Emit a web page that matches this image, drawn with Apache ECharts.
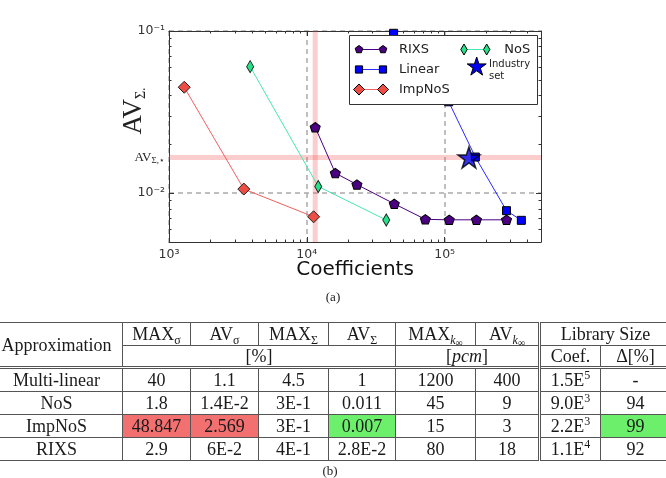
<!DOCTYPE html>
<html>
<head>
<meta charset="utf-8">
<script src="https://cdn.jsdelivr.net/npm/echarts@6/dist/echarts.min.js"></script>
<style>
  html, body { margin: 0; padding: 0; background: #fff; overflow: hidden; }
  #chart { position: absolute; left: 0; top: 0; width: 666px; height: 478px; }
  #tbl { position: absolute; left: -10px; top: 322px; width: 680px; border-collapse: collapse; table-layout: fixed;
         font-family: 'Liberation Serif', serif; font-size: 18px; color: #1a1a1a; }
  #tbl td { border: 1px solid #555; padding: 0; text-align: center; line-height: 18px; white-space: nowrap; overflow: hidden; }
  #tbl tr.h1 td { height: 22px; }
  #tbl tr.h2 td { height: 20px; }
  #tbl tr.d td { height: 22px; }
  #tbl tr.first td { border-top: 3px double #555; }
  #tbl td.dl { border-left: 3px double #555; }
  #tbl sub { font-size: 12px; vertical-align: -4px; line-height: 0; }
  #tbl sub sub { font-size: 10px; vertical-align: -2px; }
  #tbl sup { font-size: 12px; vertical-align: 7px; line-height: 0; }
  .cap { position: absolute; width: 666px; text-align: center; font-family: 'Liberation Serif', serif; font-size: 13px; color: #222; }
</style>
</head>
<body>
<div id="chart"></div>
<div class="cap" style="left:0; top:289px;">(a)</div>
<table id="tbl"></table>
<div class="cap" style="left:-3px; top:463px;">(b)</div>
<script>
// ---- chart data ----
var rixsCoef   = [11500, 16100, 23100, 43100, 72400, 108000, 170000, 281000];
var rixsAv     = [0.0255, 0.0133, 0.0113, 0.0086, 0.0069, 0.00685, 0.00685, 0.00685];
var linearCoef = [42600, 107000, 167000, 281000, 360000];
var linearAv   = [0.0968, 0.0366, 0.0167, 0.0078, 0.0068];
var impNosCoef = [1290, 3490, 11200];
var impNosAv   = [0.045, 0.0106, 0.00715];
var nosCoef    = [3880, 12100, 37700];
var nosAv      = [0.0603, 0.0110, 0.00683];
var industryCoef = [150000];
var industryAv   = [0.0166];
var refCoef = 11500;   // pink vertical
var refAv   = 0.0166;  // pink horizontal, AV_{Σ,*}

var xMin = 1000, xMax = 500000, yMin = 0.005, yMax = 0.1;
var xMajor = [1000, 10000, 100000];
var xMinor = [2000, 3000, 4000, 5000, 6000, 7000, 8000, 9000,
              20000, 30000, 40000, 50000, 60000, 70000, 80000, 90000,
              200000, 300000, 400000];
var yMajor = [0.01, 0.1];
var yMinor = [0.006, 0.007, 0.008, 0.009, 0.02, 0.03, 0.04, 0.05, 0.06, 0.07, 0.08, 0.09];
var supDigits = { '0': '⁰', '1': '¹', '2': '²', '3': '³', '4': '⁴', '5': '⁵', '-': '⁻' };

// ---- table data ----
var approxNames = ['Multi-linear', 'NoS', 'ImpNoS', 'RIXS'];
var maxSigma    = ['40', '1.8', '48.847', '2.9'];
var avSigma     = ['1.1', '1.4E-2', '2.569', '6E-2'];
var maxSigmaCap = ['4.5', '3E-1', '3E-1', '4E-1'];
var avSigmaCap  = ['1', '0.011', '0.007', '2.8E-2'];
var maxKinf     = ['1200', '45', '15', '80'];
var avKinf      = ['400', '9', '3', '18'];
var coefMant    = ['1.5E', '9.0E', '2.2E', '1.1E'];
var coefExp     = ['5', '3', '3', '4'];
var deltaPct    = ['-', '94', '99', '92'];
// highlighted cells: row, column, colour
var highlights = [[2, 1, '#f27070'], [2, 2, '#f27070'], [2, 4, '#6cf06c'], [2, 8, '#6cf06c']];

function pairs(xs, ys) {
  var out = [];
  for (var i = 0; i < xs.length; i++) out.push([xs[i], ys[i]]);
  return out;
}
function powLabel(v) {
  if (Math.abs(v - refAv) < 1e-6) return '{a|AV}{s|Σ,⋆}';
  var e = String(Math.round(Math.log10(v)));
  var s = '';
  for (var i = 0; i < e.length; i++) s += supDigits[e[i]];
  return '10' + s;
}

var pentagon = 'path://M0,-100L95.1,-30.9L58.8,80.9L-58.8,80.9L-95.1,-30.9Z';
var diamond = 'path://M0,-100L100,0L0,100L-100,0Z';
var star = 'path://M0,-100L22.45,-30.9L95.1,-30.9L36.3,11.8L58.8,80.9L0,38.2L-58.8,80.9L-36.3,11.8L-95.1,-30.9L-22.45,-30.9Z';

var frame = '#333';
function xAxisOf(pos, ticks, len, main) {
  return {
    type: 'log', logBase: 10, min: xMin, max: xMax, position: pos, gridIndex: 0,
    axisLine: { show: main, onZero: false, lineStyle: { color: frame, width: 1 } },
    axisTick: { show: true, inside: true, length: len, customValues: ticks, lineStyle: { color: frame } },
    axisLabel: (main && pos === 'bottom') ? {
      show: true, customValues: xMajor, formatter: powLabel, margin: 6,
      color: '#333', fontFamily: 'DejaVu Sans', fontSize: 12.5
    } : { show: false },
    splitLine: (main && pos === 'bottom') ? {
      show: true, lineStyle: { color: '#aaa', type: [5, 4], width: 1.5 }
    } : { show: false },
    minorTick: { show: false }
  };
}
function yAxisOf(pos, ticks, len, main) {
  return {
    type: 'log', logBase: 10, min: yMin, max: yMax, position: pos, gridIndex: 0,
    axisLine: { show: main, onZero: false, lineStyle: { color: frame, width: 1 } },
    axisTick: { show: true, inside: true, length: len, customValues: ticks, lineStyle: { color: frame } },
    axisLabel: (main && pos === 'left') ? {
      show: true, customValues: yMajor.concat([refAv]), formatter: powLabel, margin: 4,
      color: '#333', fontFamily: 'DejaVu Sans', fontSize: 12.5,
      rich: {
        a: { fontFamily: 'Liberation Serif', fontSize: 13, color: '#222' },
        s: { fontFamily: 'Liberation Serif', fontSize: 9, color: '#222', padding: [6, 0, 0, 0] }
      }
    } : { show: false },
    splitLine: (main && pos === 'left') ? {
      show: true, lineStyle: { color: '#aaa', type: [5, 4], width: 1.5 }
    } : { show: false },
    minorTick: { show: false }
  };
}

// legend drawn as graphic (matplotlib style: marker - line - marker)
function poly(pts, cx, cy, rx, ry, fill) {
  return {
    type: 'polygon', z: 100,
    shape: { points: pts.map(function (p) { return [cx + p[0] * rx, cy + p[1] * ry]; }) },
    style: { fill: fill, stroke: '#000', lineWidth: 1 }
  };
}
var pentPts = [[0, -1], [0.951, -0.309], [0.588, 0.809], [-0.588, 0.809], [-0.951, -0.309]];
var diaPts = [[0, -1], [1, 0], [0, 1], [-1, 0]];
var sqPts = [[-1, -1], [1, -1], [1, 1], [-1, 1]];
var starPts = [[0, -1], [0.2245, -0.309], [0.951, -0.309], [0.363, 0.118], [0.588, 0.809], [0, 0.382],
               [-0.588, 0.809], [-0.363, 0.118], [-0.951, -0.309], [-0.2245, -0.309]];

function legendItem(x0, x1, y, lineColor, pts, rx, ry, fill, label, tx) {
  return [
    { type: 'line', z: 100, shape: { x1: x0, y1: y, x2: x1, y2: y }, style: { stroke: lineColor, lineWidth: 1 } },
    poly(pts, x0, y, rx, ry, fill),
    poly(pts, x1, y, rx, ry, fill),
    { type: 'text', z: 100, x: tx, y: y, style: { text: label, fill: '#222', font: '13px "DejaVu Sans"', verticalAlign: 'middle' } }
  ];
}

var lg = { x: 349.5, y: 35.5 };
var legendChildren = [
  { type: 'rect', z: 99, shape: { x: 0, y: 0, width: 188, height: 69 }, style: { fill: '#fff', stroke: '#333', lineWidth: 1 } }
].concat(
  legendItem(9.5, 33.5, 14, '#4b0082', pentPts, 4, 4, '#4b0082', 'RIXS', 49.5),
  legendItem(9.5, 33.5, 34, '#2a2aff', sqPts, 3.6, 3.6, '#0000ff', 'Linear', 49.5),
  legendItem(9.5, 33.5, 54, '#f06060', diaPts, 5.5, 5.5, '#ec4e46', 'ImpNoS', 49.5),
  legendItem(114.5, 137.2, 14, '#48e6b0', diaPts, 3.2, 5.5, '#26e38a', 'NoS', 154.8),
  [
    poly(starPts, 127.2, 31.5, 10, 10, '#0000ee'),
    { type: 'text', z: 100, x: 139.5, y: 28.8, style: { text: 'Industry', fill: '#222', font: '10px "DejaVu Sans"', verticalAlign: 'middle' } },
    { type: 'text', z: 100, x: 139.5, y: 41.2, style: { text: 'set', fill: '#222', font: '10px "DejaVu Sans"', verticalAlign: 'middle' } }
  ]
);

var pink = 'rgba(246, 90, 90, 0.3)';
var chart = echarts.init(document.getElementById('chart'), null, { renderer: 'canvas' });
var option = {
  animation: false,
  backgroundColor: '#fff',
  grid: { left: 169, top: 31, width: 372, height: 211, containLabel: false },
  xAxis: [
    xAxisOf('bottom', xMajor, 5, true),
    xAxisOf('bottom', xMinor, 2.5, false),
    xAxisOf('top', xMajor, 5, true),
    xAxisOf('top', xMinor, 2.5, false)
  ],
  yAxis: [
    yAxisOf('left', yMajor, 5, true),
    yAxisOf('left', yMinor, 2.5, false),
    yAxisOf('right', yMajor, 5, true),
    yAxisOf('right', yMinor, 2.5, false)
  ],
  graphic: [
    { type: 'group', x: lg.x, y: lg.y, children: legendChildren },
    {
      type: 'text', x: 134, y: 111, rotation: Math.PI / 2, z: 50,
      style: {
        text: '{a|AV}{s|Σ.}', align: 'center', verticalAlign: 'middle',
        rich: {
          a: { fontFamily: 'Liberation Serif', fontSize: 27, fill: '#222' },
          s: { fontFamily: 'Liberation Serif', fontSize: 14, fill: '#222', padding: [14, 0, 0, 0] }
        }
      }
    },
    {
      type: 'text', x: 355, y: 270,
      style: { text: 'Coefficients', fill: '#111', font: '20px "DejaVu Sans"', align: 'center', verticalAlign: 'middle' }
    }
  ],
  series: [
    {
      type: 'line', name: 'refV', data: [[refCoef, yMin], [refCoef, yMax]], z: 1, silent: true,
      symbol: 'none', lineStyle: { color: pink, width: 5 }
    },
    {
      type: 'line', name: 'refH', data: [[xMin, refAv], [xMax, refAv]], z: 1, silent: true,
      symbol: 'none', lineStyle: { color: pink, width: 5 }
    },
    {
      type: 'line', name: 'RIXS', data: pairs(rixsCoef, rixsAv), z: 3,
      symbol: pentagon, symbolSize: [10, 9.5], showAllSymbol: true,
      lineStyle: { color: '#4b0082', width: 1 },
      itemStyle: { color: '#4b0082', borderColor: '#000', borderWidth: 1 }
    },
    {
      type: 'line', name: 'Linear', data: pairs(linearCoef, linearAv), z: 3,
      symbol: 'rect', symbolSize: 8, showAllSymbol: true,
      lineStyle: { color: '#2a2aff', width: 1 },
      itemStyle: { color: '#0000ff', borderColor: '#000', borderWidth: 1 }
    },
    {
      type: 'line', name: 'ImpNoS', data: pairs(impNosCoef, impNosAv), z: 3,
      symbol: diamond, symbolSize: 12, showAllSymbol: true,
      lineStyle: { color: '#f06060', width: 1 },
      itemStyle: { color: '#ec4e46', borderColor: '#222', borderWidth: 1 }
    },
    {
      type: 'line', name: 'NoS', data: pairs(nosCoef, nosAv), z: 3,
      symbol: diamond, symbolSize: [7, 12], showAllSymbol: true,
      lineStyle: { color: '#48e6b0', width: 1 },
      itemStyle: { color: '#26e38a', borderColor: '#222', borderWidth: 1 }
    },
    {
      type: 'scatter', name: 'Industry set', data: pairs(industryCoef, industryAv), z: 4,
      symbol: star, symbolSize: [22, 21],
      itemStyle: { color: '#0000ee', borderColor: '#000', borderWidth: 1.5 }
    }
  ]
};
chart.setOption(option);

// ---- table ----
var columns = [approxNames, maxSigma, avSigma, maxSigmaCap, avSigmaCap, maxKinf, avKinf, null, deltaPct];
var colWidths = [132, 68, 68, 70, 67, 80, 64, 61, 70];
var html = '<colgroup>';
colWidths.forEach(function (w) { html += '<col style="width:' + w + 'px">'; });
html += '</colgroup>';
html += '<tr class="h1"><td rowspan="2">Approximation</td>' +
  '<td>MAX<sub>σ</sub></td><td>AV<sub>σ</sub></td><td>MAX<sub>Σ</sub></td><td>AV<sub>Σ</sub></td>' +
  '<td>MAX<sub><i>k</i><sub>∞</sub></sub></td><td>AV<sub><i>k</i><sub>∞</sub></sub></td>' +
  '<td class="dl" colspan="2">Library Size</td></tr>';
html += '<tr class="h2"><td colspan="4">[%]</td><td colspan="2">[<i>pcm</i>]</td>' +
  '<td class="dl">Coef.</td><td>Δ[%]</td></tr>';
for (var r = 0; r < approxNames.length; r++) {
  html += '<tr class="d' + (r === 0 ? ' first' : '') + '">';
  for (var c = 0; c < columns.length; c++) {
    var txt = c === 7 ? coefMant[r] + '<sup>' + coefExp[r] + '</sup>' : columns[c][r];
    var bg = '';
    highlights.forEach(function (h) { if (h[0] === r && h[1] === c) bg = ' style="background:' + h[2] + '"'; });
    html += '<td' + (c === 7 ? ' class="dl"' : '') + bg + '>' + txt + '</td>';
  }
  html += '</tr>';
}
document.getElementById('tbl').innerHTML = html;
</script>
</body>
</html>
